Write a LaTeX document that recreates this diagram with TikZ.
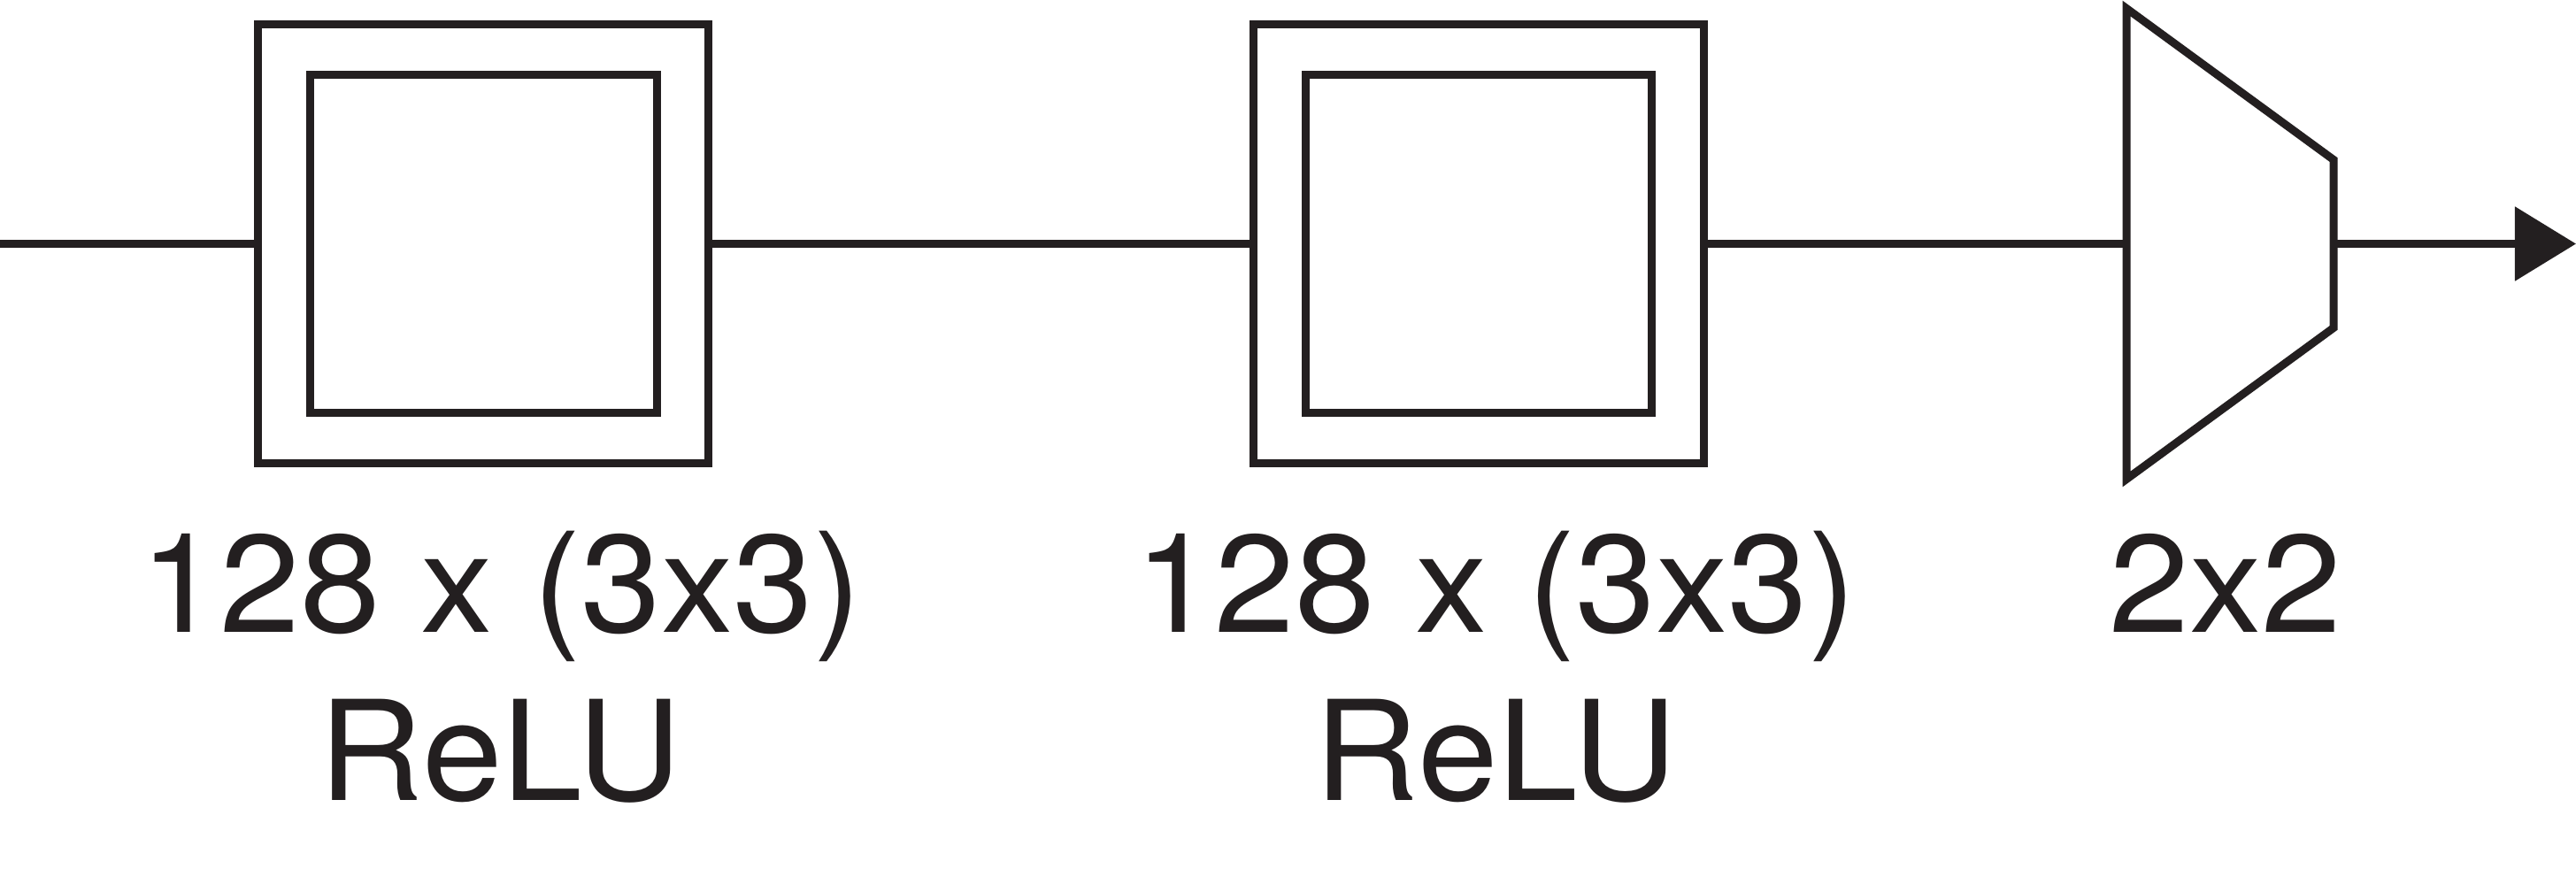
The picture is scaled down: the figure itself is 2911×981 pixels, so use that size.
\documentclass[tikz,border=0pt]{standalone}
\usepackage{fontspec}
\setmainfont{TeX Gyre Heros}[FakeStretch=1.04]
\usetikzlibrary{arrows.meta}
\definecolor{ink}{HTML}{231F20}
\tikzset{
  wire/.style={draw=ink, line width=0.09cm},
  boxout/.style={draw=ink, line width=0.09cm, rectangle, inner sep=0pt, outer sep=0pt, minimum width=5.08cm, minimum height=4.96cm},
  boxin/.style={draw=ink, line width=0.09cm, rectangle, inner sep=0pt, outer sep=0pt, minimum width=3.91cm, minimum height=3.82cm},
  lbl/.style={anchor=base, inner sep=0pt, text=ink, font=\fontsize{44.6}{54}\selectfont}
}
\begin{document}
\begin{tikzpicture}[x=0.01cm, y=-0.01cm]
\useasboundingbox (0,0) rectangle (2911,981);
% conv block 1
\node[boxout] (c1) at (546,275.5) {};
\node[boxin] (c1i) at (546.5,275.5) {};
% conv block 2
\node[boxout] (c2) at (1671,275.5) {};
\node[boxin] (c2i) at (1671,275.5) {};
% pooling trapezoid
\coordinate (ptl) at (2403,9.5);
\coordinate (pbl) at (2403,541.5);
\coordinate (ptr) at (2637,180.5);
\coordinate (pbr) at (2637,370.5);
\coordinate (pin) at (2403,275.5);
\coordinate (pout) at (2637,275.5);
\draw[wire, line join=miter] (ptl) -- (ptr) -- (pbr) -- (pbl) -- cycle;
% connectors
\coordinate (start) at (0,275.5);
\coordinate (end) at (2911,275.5);
\draw[wire] (start) -- (c1.west);
\draw[wire] (c1.east) -- (c2.west);
\draw[wire] (c2.east) -- (pin);
\draw[wire, -{Triangle[length=0.69cm, width=0.82cm]}] (pout) -- (end);
% labels
\node[lbl] (l1a) at (566,714) {128 x (3x3)};
\node[lbl] (l1b) at (565.5,904) {ReLU};
\node[lbl] (l2a) at (1690,714) {128 x (3x3)};
\node[lbl] (l2b) at (1690.5,904) {ReLU};
\node[lbl] (l3) at (2515,714) {2x2};
\end{tikzpicture}
\end{document}
